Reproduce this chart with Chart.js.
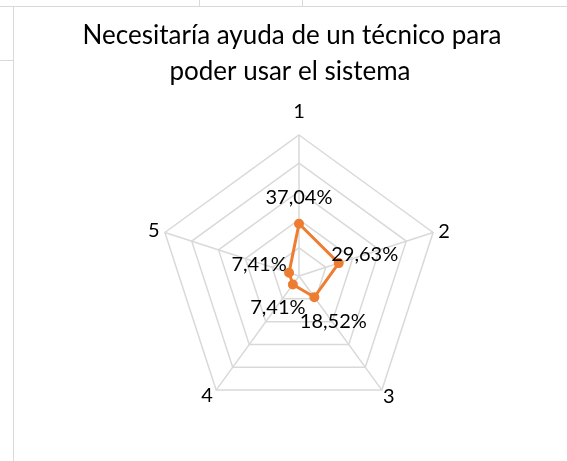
<!DOCTYPE html>
<html>
<head>
<meta charset="utf-8">
<script src="https://cdn.jsdelivr.net/npm/chart.js@4"></script>
<style>
  html, body { margin:0; padding:0; background:#fff; }
  body { width:567px; height:461px; position:relative; overflow:hidden; }
  .ln { position:absolute; background:#d9d9d9; }
  #wrap { position:absolute; left:0; top:0; width:567px; height:461px; }
</style>
</head>
<body>
<!-- sheet cell lines behind the chart box -->
<div class="ln" style="left:0;top:6px;width:567px;height:1px"></div>
<div class="ln" style="left:199px;top:0;width:1px;height:6px"></div>
<div class="ln" style="left:302px;top:0;width:1px;height:6px"></div>
<div class="ln" style="left:0;top:60px;width:13px;height:1px"></div>
<div class="ln" style="left:13px;top:6px;width:1px;height:455px"></div>
<div id="wrap"><canvas id="radar"></canvas></div>

<script>
/* ===============================
   DATA
================================ */
const titleLines = ["Necesitaría ayuda de un técnico para", "poder usar el sistema"];
const categories = ["1", "2", "3", "4", "5"];
const percentValues = [37.04, 29.63, 18.52, 7.41, 7.41];
const scaleMax = 100;
const scaleStep = 20;

const FONT = "Lato, 'Open Sans', sans-serif";
const ORANGE = "#ED7D31";

// label nudges (px) from the point / outer vertex
const valueShift = [[0,-26],[26,-9],[19,24],[-15,23],[-30,-8]];
const catShift = [[0,-23],[11,-1],[7,6],[-9,5],[-11,-2]];

function fmtPct(v){
  return v.toFixed(2).replace(".", ",") + "%";
}

/* TITLE + LABELS */
const textLayer = {
  id:"textLayer",
  afterDatasetsDraw(chart){
    const ctx = chart.ctx;
    const r = chart.scales.r;
    const meta = chart.getDatasetMeta(0);
    ctx.save();
    ctx.fillStyle = "#000";

    // title
    ctx.font = "26px " + FONT;
    ctx.textAlign = "center";
    ctx.textBaseline = "alphabetic";
    ctx.fillText(titleLines[0], 292, 44);
    ctx.fillText(titleLines[1], 290, 80);

    ctx.font = "20px " + FONT;
    ctx.textBaseline = "middle";

    // category labels at the outer ring
    categories.forEach((c,i)=>{
      const p = r.getPointPosition(i, r.drawingArea);
      ctx.fillText(c, p.x + catShift[i][0], p.y + catShift[i][1]);
    });

    // value labels
    meta.data.forEach((pt,i)=>{
      const s = valueShift[i];
      ctx.fillText(fmtPct(percentValues[i]), pt.x + s[0], pt.y + s[1]);
    });
    ctx.restore();
  }
};

/* CHART */
new Chart(document.getElementById("radar"),{
  type:"radar",
  data:{
    labels:categories,
    datasets:[{
      data:percentValues,
      borderColor:ORANGE,
      backgroundColor:"transparent",
      borderWidth:3,
      pointBackgroundColor:ORANGE,
      pointBorderColor:ORANGE,
      pointRadius:3.5,
      fill:false
    }]
  },
  options:{
    responsive:true,
    maintainAspectRatio:false,
    animation:false,
    layout:{ padding:{ left:32, right:0, top:135, bottom:43 } },
    plugins:{
      legend:{ display:false },
      tooltip:{ enabled:false },
      title:{ display:false }
    },
    scales:{
      r:{
        min:0,
        max:scaleMax,
        ticks:{ display:false, stepSize:scaleStep },
        grid:{ color:"#d9d9d9", lineWidth:1.5 },
        angleLines:{ color:"#d9d9d9", lineWidth:1.5 },
        pointLabels:{ display:false }
      }
    }
  },
  plugins:[textLayer]
});
</script>
</body>
</html>
